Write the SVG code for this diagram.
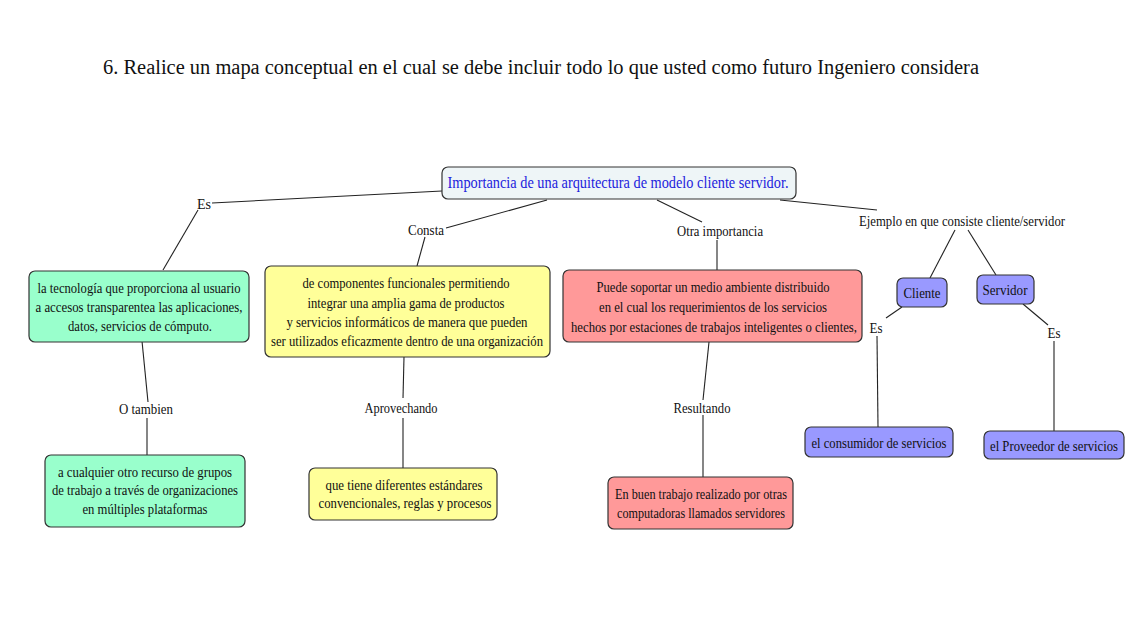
<svg xmlns="http://www.w3.org/2000/svg" width="1147" height="629" viewBox="0 0 1147 629">
<style>
text{font-family:"Liberation Serif","Times New Roman",serif;fill:#111;}
.t{font-size:15px;text-anchor:middle;}
.lbl{font-size:15px;text-anchor:middle;}
.box{stroke:#333;stroke-width:1.2;}
.g{fill:#99ffcc;}
.y{fill:#ffff99;}
.r{fill:#ff9999;}
.b{fill:#9999ff;}
.m{fill:#eef5f7;}
#connectors line{stroke:#222;stroke-width:1.1;}
</style>
<rect width="1147" height="629" fill="#ffffff"/>
<text x="103" y="74" font-family="'Liberation Serif', 'Times New Roman', serif" font-size="20" textLength="876" lengthAdjust="spacingAndGlyphs">6. Realice un mapa conceptual en el cual se debe incluir todo lo que usted como futuro Ingeniero considera</text>

<g id="connectors">
  <line x1="442" y1="191" x2="212" y2="203"/>
  <line x1="198" y1="210" x2="163" y2="270"/>
  <line x1="547" y1="200" x2="446" y2="228"/>
  <line x1="425" y1="237" x2="417" y2="266"/>
  <line x1="657" y1="200" x2="702" y2="222"/>
  <line x1="717" y1="240" x2="717" y2="270"/>
  <line x1="780" y1="200" x2="877" y2="210"/>
  <line x1="955" y1="230" x2="930" y2="278"/>
  <line x1="968" y1="230" x2="996" y2="275"/>
  <line x1="902" y1="307" x2="886" y2="318"/>
  <line x1="877" y1="336" x2="878" y2="427"/>
  <line x1="1023" y1="304" x2="1048" y2="325"/>
  <line x1="1054" y1="341" x2="1054" y2="431"/>
  <line x1="142" y1="341" x2="148" y2="402"/>
  <line x1="147" y1="418" x2="147" y2="455"/>
  <line x1="404" y1="357" x2="403" y2="398"/>
  <line x1="403" y1="418" x2="403" y2="468"/>
  <line x1="709" y1="342" x2="703" y2="400"/>
  <line x1="703" y1="415" x2="703" y2="477"/>
  <text class="lbl" x="204" y="209" textLength="14" lengthAdjust="spacingAndGlyphs">Es</text>
  <text class="lbl" x="426" y="235" textLength="36" lengthAdjust="spacingAndGlyphs">Consta</text>
  <text class="lbl" x="720" y="236" textLength="86" lengthAdjust="spacingAndGlyphs">Otra importancia</text>
  <text class="lbl" x="962" y="226" textLength="206" lengthAdjust="spacingAndGlyphs">Ejemplo en que consiste cliente/servidor</text>
  <text class="lbl" x="876" y="333" textLength="13" lengthAdjust="spacingAndGlyphs">Es</text>
  <text class="lbl" x="1054" y="338" textLength="13" lengthAdjust="spacingAndGlyphs">Es</text>
  <text class="lbl" x="146" y="414" textLength="54" lengthAdjust="spacingAndGlyphs">O tambien</text>
  <text class="lbl" x="401" y="413" textLength="73" lengthAdjust="spacingAndGlyphs">Aprovechando</text>
  <text class="lbl" x="702" y="413" textLength="57" lengthAdjust="spacingAndGlyphs">Resultando</text>
</g>

<g id="main">
  <rect class="box m" x="442" y="167" width="354" height="32" rx="6"/>
  <text x="618" y="188" font-size="17" text-anchor="middle" style="fill:#2222dd" textLength="341" lengthAdjust="spacingAndGlyphs">Importancia de una arquitectura de modelo cliente servidor.</text>
</g>

<g id="green1">
  <rect class="box g" x="29" y="271" width="220" height="71" rx="6"/>
  <text class="t" x="139" y="293" textLength="203" lengthAdjust="spacingAndGlyphs">la tecnología que proporciona al usuario</text>
  <text class="t" x="139" y="312" textLength="207" lengthAdjust="spacingAndGlyphs">a accesos transparentea las aplicaciones,</text>
  <text class="t" x="140" y="331" textLength="144" lengthAdjust="spacingAndGlyphs">datos, servicios de cómputo.</text>
</g>

<g id="green2">
  <rect class="box g" x="45" y="455" width="200" height="72" rx="6"/>
  <text class="t" x="145" y="477" textLength="174" lengthAdjust="spacingAndGlyphs">a cualquier otro recurso de grupos</text>
  <text class="t" x="145" y="495" textLength="186" lengthAdjust="spacingAndGlyphs">de trabajo a través de organizaciones</text>
  <text class="t" x="145" y="514" textLength="125" lengthAdjust="spacingAndGlyphs">en múltiples plataformas</text>
</g>

<g id="yellow1">
  <rect class="box y" x="265" y="266" width="285" height="91" rx="6"/>
  <text class="t" x="406" y="288" textLength="207" lengthAdjust="spacingAndGlyphs">de componentes funcionales permitiendo</text>
  <text class="t" x="406" y="308" textLength="197" lengthAdjust="spacingAndGlyphs">integrar una amplia gama de productos</text>
  <text class="t" x="407" y="327" textLength="241" lengthAdjust="spacingAndGlyphs">y servicios informáticos de manera que pueden</text>
  <text class="t" x="407" y="346" textLength="272" lengthAdjust="spacingAndGlyphs">ser utilizados eficazmente dentro de una organización</text>
</g>

<g id="yellow2">
  <rect class="box y" x="309" y="468" width="188" height="52" rx="6"/>
  <text class="t" x="404" y="490" textLength="157" lengthAdjust="spacingAndGlyphs">que tiene diferentes estándares</text>
  <text class="t" x="405" y="508" textLength="173" lengthAdjust="spacingAndGlyphs">convencionales, reglas y procesos</text>
</g>

<g id="red1">
  <rect class="box r" x="563" y="270" width="299" height="72" rx="6"/>
  <text class="t" x="713" y="292" textLength="233" lengthAdjust="spacingAndGlyphs">Puede soportar un medio ambiente distribuido</text>
  <text class="t" x="713" y="312" textLength="228" lengthAdjust="spacingAndGlyphs">en el cual los requerimientos de los servicios</text>
  <text class="t" x="714" y="332" textLength="286" lengthAdjust="spacingAndGlyphs">hechos por estaciones de trabajos inteligentes o clientes,</text>
</g>

<g id="red2">
  <rect class="box r" x="608" y="477" width="185" height="52" rx="6"/>
  <text class="t" x="701" y="499" textLength="172" lengthAdjust="spacingAndGlyphs">En buen trabajo realizado por otras</text>
  <text class="t" x="701" y="518" textLength="168" lengthAdjust="spacingAndGlyphs">computadoras llamados servidores</text>
</g>

<g id="cliente">
  <rect class="box b" x="897" y="278" width="50" height="29" rx="6"/>
  <text class="t" x="922" y="298" textLength="37" lengthAdjust="spacingAndGlyphs">Cliente</text>
</g>

<g id="servidor">
  <rect class="box b" x="977" y="275" width="57" height="29" rx="6"/>
  <text class="t" x="1005" y="295" textLength="45" lengthAdjust="spacingAndGlyphs">Servidor</text>
</g>

<g id="consumidor">
  <rect class="box b" x="805" y="427" width="148" height="30" rx="6"/>
  <text class="t" x="879" y="448" textLength="135" lengthAdjust="spacingAndGlyphs">el consumidor de servicios</text>
</g>

<g id="proveedor">
  <rect class="box b" x="984" y="431" width="140" height="28" rx="6"/>
  <text class="t" x="1054" y="451" textLength="128" lengthAdjust="spacingAndGlyphs">el Proveedor de servicios</text>
</g>
</svg>
